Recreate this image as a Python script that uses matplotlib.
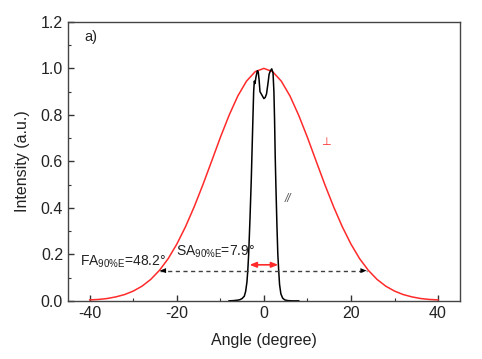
import numpy as np
import matplotlib.pyplot as plt
from matplotlib.ticker import MultipleLocator

plt.rcParams['font.family'] = ['Liberation Sans', 'DejaVu Sans']
plt.rcParams['mathtext.fontset'] = 'custom'
plt.rcParams['mathtext.rm'] = 'Liberation Sans'
plt.rcParams['mathtext.it'] = 'Liberation Sans:italic'
plt.rcParams['axes.unicode_minus'] = False

# perpendicular (fast axis) profile
fa_angle = [-40, -38, -36, -34, -32, -30, -28, -26, -24, -22, -20, -18, -16, -14,
            -12, -10, -8, -6, -4, -2, 0, 2, 4, 6, 8, 10, 12, 14, 16, 18, 20,
            22, 24, 26, 28, 30, 32, 34, 36, 38, 40]
fa_int = [0.004, 0.006, 0.010, 0.017, 0.027, 0.042, 0.063, 0.092, 0.131, 0.181,
          0.244, 0.319, 0.405, 0.500, 0.601, 0.703, 0.798, 0.881, 0.945, 0.986,
          1.000, 0.986, 0.945, 0.881, 0.798, 0.703, 0.601, 0.500, 0.405, 0.319,
          0.244, 0.181, 0.131, 0.092, 0.063, 0.042, 0.027, 0.017, 0.010, 0.006,
          0.004]

# parallel (slow axis) profile
sa_angle = [-8, -7, -6, -5.5, -5, -4.5, -4.2, -3.9, -3.7, -3.5, -3.2, -2.9, -2.7,
            -2.5, -2.35, -2.2, -2.05, -1.8, -1.5, -1.3, -1.1, -0.9, -0.6, -0.3, 0,
            0.3, 0.6, 0.9, 1.2, 1.5, 1.8, 2.1, 2.3, 2.45, 2.6, 2.75, 3.0, 3.2,
            3.4, 3.6, 3.9, 4.3, 4.8, 5.5, 6.5, 8]
sa_int = [0, 0.001, 0.003, 0.005, 0.01, 0.02, 0.04, 0.08, 0.13, 0.2, 0.35, 0.52,
          0.66, 0.8, 0.9, 0.945, 0.935, 0.965, 0.99, 0.985, 0.95, 0.9, 0.89, 0.88,
          0.87, 0.875, 0.89, 0.93, 0.975, 0.99, 0.998, 0.98, 0.9, 0.78, 0.62,
          0.5, 0.32, 0.2, 0.13, 0.07, 0.03, 0.012, 0.004, 0.001, 0, 0]

fa_width = [-23.9, 23.6]   # 90% energy, fast axis
fa_level = 0.13
sa_width = [-3.3, 3.3]     # 90% energy, slow axis
sa_level = 0.155

fig = plt.figure(figsize=(4.82, 3.59), dpi=100)
ax = fig.add_axes([0.141, 0.162, 0.813, 0.777])

ax.plot(fa_angle, fa_int, color='#ff2a2a', lw=1.1)
ax.plot(sa_angle, sa_int, color='black', lw=1.1)

# fast axis dashed width marker
ax.plot(fa_width, [fa_level, fa_level], ls=(0, (3, 2.5)), color='#404040', lw=1)
for xe, xs in [(fa_width[0], fa_width[0] + 3), (fa_width[1], fa_width[1] - 3)]:
    ax.annotate('', xy=(xe, fa_level), xytext=(xs, fa_level),
                arrowprops=dict(arrowstyle='-|>,head_length=0.45,head_width=0.18',
                                color='black', lw=0, shrinkA=0, shrinkB=0))

# slow axis width marker
ax.annotate('', xy=(sa_width[0], sa_level), xytext=(sa_width[1], sa_level),
            arrowprops=dict(arrowstyle='<|-|>,head_length=0.4,head_width=0.16',
                            color='#ff2a2a', lw=1.2, shrinkA=0, shrinkB=0))

ax.text(-42.3, 0.17, r'FA$_{\mathrm{90\%E}}$=48.2°', fontsize=10, va='center',
        color='#222222')
ax.text(-20.1, 0.213, r'SA$_{\mathrm{90\%E}}$=7.9°', fontsize=10, va='center',
        color='#222222')
ax.text(-41.3, 1.135, 'a)', fontsize=10.5, va='center', color='#222222')
ax.text(14.2, 0.685, '⊥', fontsize=8, color='#ff2a2a', ha='center', va='center',
        family='DejaVu Sans')
ax.text(5.6, 0.44, '//', fontsize=8.5, color='#555555', ha='center', va='center',
        style='italic')

ax.set_xlim(-45, 45)
ax.set_ylim(0, 1.2)
ax.xaxis.set_major_locator(MultipleLocator(20))
ax.xaxis.set_minor_locator(MultipleLocator(10))
ax.yaxis.set_major_locator(MultipleLocator(0.2))
ax.yaxis.set_minor_locator(MultipleLocator(0.1))
ax.yaxis.set_major_formatter(plt.FormatStrFormatter('%.1f'))
ax.tick_params(which='both', direction='in', top=False, right=False,
               labelsize=11.5, color='#333333', labelcolor='#222222')
ax.tick_params(which='major', length=4, width=1)
ax.tick_params(which='minor', length=2.5, width=0.8)
for s in ax.spines.values():
    s.set_color('#444444')
    s.set_linewidth(1)

ax.set_xlabel('Angle (degree)', fontsize=11.5, color='#222222', labelpad=9)
ax.set_ylabel('Intensity (a.u.)', fontsize=11.5, color='#222222', labelpad=8)

fig.savefig('out.png', dpi=100)
